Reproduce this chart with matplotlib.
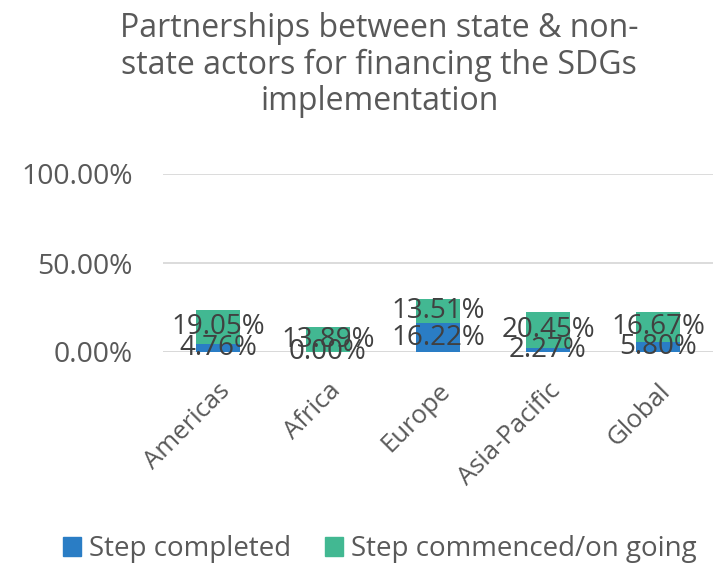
import matplotlib
matplotlib.use("Agg")
import matplotlib.pyplot as plt
from matplotlib.patches import Patch

plt.rcParams['font.family'] = ['Open Sans', 'DejaVu Sans']

categories = ["Americas", "Africa", "Europe", "Asia-Pacific", "Global"]
completed = [4.76, 0.00, 16.22, 2.27, 5.80]
ongoing = [19.05, 13.89, 13.51, 20.45, 16.67]
series_names = ["Step completed", "Step commenced/on going"]
yticks = [0, 50, 100]
ytick_labels = ["0.00%", "50.00%", "100.00%"]
title = "Partnerships between state & non-\nstate actors for financing the SDGs\nimplementation"

blue = "#2A7DC5"
green = "#42B892"
txt = "#595959"
lbl = "#404040"

W, H = 713, 563
fig = plt.figure(figsize=(W / 100, H / 100), dpi=100)
left, right = 163 / W, 1.0
bottom, top = (H - 352) / H, (H - 174) / H
ax = fig.add_axes([left, bottom, right - left, top - bottom])

x = list(range(len(categories)))
bw = 0.4
ax.bar(x, completed, width=bw, color=blue, zorder=2)
ax.bar(x, ongoing, width=bw, bottom=completed, color=green, zorder=2)

for i in x:
    ax.text(i, completed[i] / 2, f"{completed[i]:.2f}%", ha='center', va='center',
            fontsize=20, color=lbl, zorder=3)
    ax.text(i, completed[i] + ongoing[i] / 2, f"{ongoing[i]:.2f}%", ha='center', va='center',
            fontsize=20, color=lbl, zorder=3)

ax.set_xlim(-0.5, 4.5)
ax.set_ylim(0, 100)
ax.set_yticks(yticks)
ax.set_yticklabels(ytick_labels, fontsize=20.3, color=txt)
ax.set_xticks(x)
ax.set_xticklabels(categories, rotation=45, ha='right', rotation_mode='anchor',
                   fontsize=18.5, color=txt)
ax.tick_params(axis='both', length=0)
ax.tick_params(axis='y', pad=22)
ax.tick_params(axis='x', pad=19)
ax.yaxis.grid(True, color="#D9D9D9", linewidth=1.3, zorder=0)
ax.set_axisbelow(True)
for s in ax.spines.values():
    s.set_visible(False)
ax.axhline(0, color="#D9D9D9", linewidth=1.3, zorder=1)

fig.text(120 / W, 1 - 12 / H, title, ha='left', va='top', multialignment='center',
         fontsize=23, color=txt, linespacing=1.13)

handles = [Patch(color=blue), Patch(color=green)]
fig.legend(handles, series_names, loc='center left', bbox_to_anchor=(63 / W, 1 - 549 / H),
           ncol=2, frameon=False, fontsize=20, labelcolor=txt,
           borderpad=0, borderaxespad=0,
           handlelength=0.65, handleheight=0.65, handletextpad=0.3, columnspacing=1.2)

fig.savefig("out.png", dpi=100)
